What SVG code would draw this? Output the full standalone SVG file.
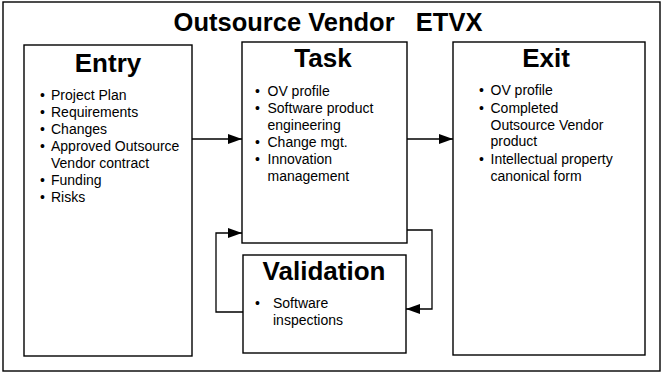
<svg xmlns="http://www.w3.org/2000/svg" width="663" height="373" viewBox="0 0 663 373">
<style>
.box{fill:#fff;stroke:#000;stroke-width:1.4}
.hd{font-family:"Liberation Sans",Arial,sans-serif;font-weight:bold;font-size:26px;text-anchor:middle;fill:#000}
.tx{font-family:"Liberation Sans",Arial,sans-serif;font-size:14px;fill:#000}
.ln{fill:none;stroke:#000;stroke-width:1.3}
</style>
<defs>
<marker id="ah" markerWidth="14" markerHeight="10" refX="14" refY="5" orient="auto" markerUnits="userSpaceOnUse">
<path d="M0,0 L14,5 L0,10 Z" fill="#000"/>
</marker>
</defs>
<rect x="0" y="0" width="663" height="373" fill="#fff"/>
<rect x="3" y="2" width="657" height="369" fill="none" stroke="#000" stroke-width="1.4"/>
<text x="328" y="31" font-family="'Liberation Sans',Arial,sans-serif" font-weight="bold" font-size="25.5" text-anchor="middle" xml:space="preserve">Outsource Vendor   ETVX</text>

<g id="entry">
<rect class="box" x="24" y="45" width="168" height="311"/>
<text class="hd" x="108" y="72">Entry</text>
<g class="tx">
<text x="40" y="99.5">•</text><text x="51" y="99.5">Project Plan</text>
<text x="40" y="116.5">•</text><text x="51" y="116.5">Requirements</text>
<text x="40" y="133.5">•</text><text x="51" y="133.5">Changes</text>
<text x="40" y="151">•</text><text x="51" y="151">Approved Outsource</text>
<text x="51" y="168">Vendor contract</text>
<text x="40" y="185">•</text><text x="51" y="185">Funding</text>
<text x="40" y="202">•</text><text x="51" y="202">Risks</text>
</g>
</g>

<g id="task">
<rect class="box" x="242" y="42" width="165" height="201"/>
<text class="hd" x="323" y="66.5">Task</text>
<g class="tx">
<text x="255" y="96">•</text><text x="267.5" y="96">OV profile</text>
<text x="255" y="113">•</text><text x="267.5" y="113">Software product</text>
<text x="267.5" y="130">engineering</text>
<text x="255" y="147">•</text><text x="267.5" y="147">Change mgt.</text>
<text x="255" y="164">•</text><text x="267.5" y="164">Innovation</text>
<text x="267.5" y="181">management</text>
</g>
</g>

<g id="validation">
<rect class="box" x="243" y="255" width="163" height="98"/>
<text class="hd" x="324" y="280">Validation</text>
<g class="tx">
<text x="255" y="308">•</text><text x="273" y="308">Software</text>
<text x="273" y="324.5">inspections</text>
</g>
</g>

<g id="exit">
<rect class="box" x="453" y="42" width="192" height="313"/>
<text class="hd" x="546" y="66.5">Exit</text>
<g class="tx">
<text x="479" y="95">•</text><text x="490.5" y="95">OV profile</text>
<text x="479" y="112.5">•</text><text x="490.5" y="112.5">Completed</text>
<text x="490.5" y="129.5">Outsource Vendor</text>
<text x="490.5" y="146">product</text>
<text x="479" y="163.5">•</text><text x="490.5" y="163.5">Intellectual property</text>
<text x="490.5" y="181">canonical form</text>
</g>
</g>

<g id="connectors">
<path class="ln" d="M192,139 H242" marker-end="url(#ah)"/>
<path class="ln" d="M407,139 H453" marker-end="url(#ah)"/>
<path class="ln" d="M407,230 H432 V309 H406" marker-end="url(#ah)"/>
<path class="ln" d="M243,312 H216 V233 H242" marker-end="url(#ah)"/>
</g>
</svg>
